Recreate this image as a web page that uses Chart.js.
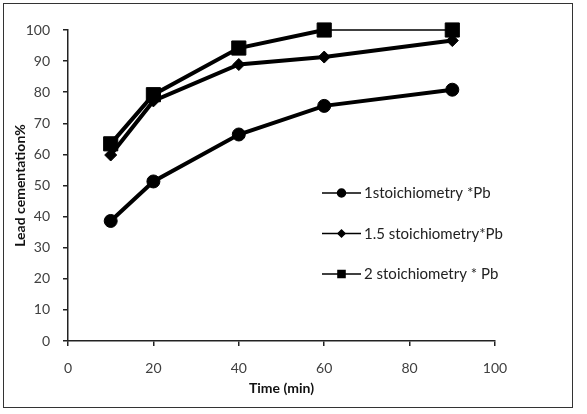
<!DOCTYPE html>
<html>
<head>
<meta charset="utf-8">
<script src="https://cdn.jsdelivr.net/npm/chart.js@4"></script>
<style>
  html, body { margin: 0; padding: 0; background: #fff; }
  #wrap { position: relative; width: 587px; height: 414px; }
  #frame { position: absolute; left: 3px; top: 3px; width: 568px; height: 403px; border: 1.5px solid #333; pointer-events: none; }
  canvas { position: absolute; left: 0; top: 0; }
</style>
</head>
<body>
<div id="wrap">
  <canvas id="chart" width="587" height="414"></canvas>
  <div id="frame"></div>
</div>
<script>
// --- DATA ---
const times = [10, 20, 40, 60, 90];
const pb1 = [38.6, 51.3, 66.4, 75.6, 80.8];
const pb15 = [59.8, 77.2, 88.9, 91.3, 96.6];
const pb2 = [63.4, 79.2, 94.2, 100, 100];
const seriesNames = ['1stoichiometry *Pb', '1.5 stoichiometry*Pb', '2 stoichiometry * Pb'];
const xRange = [0, 100];
const yRange = [0, 100];

const FONT = 'Lato, "Liberation Sans", sans-serif';

function toPoints(ys) {
  return times.map((t, i) => ({ x: t, y: ys[i] }));
}

// legend drawn inside the plot area, Excel style
const insideLegend = {
  id: 'insideLegend',
  afterDraw(chart) {
    const ctx = chart.ctx;
    const sizes = [4, 3.5, 5];
    chart.data.datasets.forEach((ds, i) => {
      const y = 193 + i * 40.5;
      ctx.save();
      ctx.strokeStyle = '#000';
      ctx.fillStyle = '#000';
      ctx.lineWidth = 1.5;
      ctx.beginPath();
      ctx.moveTo(322, y);
      ctx.lineTo(361, y);
      ctx.stroke();
      Chart.helpers.drawPoint(ctx, { pointStyle: ds.pointStyle, radius: sizes[i], borderWidth: 1 }, 341.5, y);
      ctx.font = '15px ' + FONT;
      ctx.fillStyle = '#222';
      ctx.textBaseline = 'middle';
      ctx.fillText(ds.label, 364, y + 0.5);
      ctx.restore();
    });
  }
};

const common = { borderColor: '#000', backgroundColor: '#000', pointBorderColor: '#000', pointBackgroundColor: '#000', borderWidth: 4, clip: false, pointBorderWidth: 1 };

new Chart(document.getElementById('chart'), {
  type: 'line',
  data: {
    datasets: [
      { ...common, label: seriesNames[0], data: toPoints(pb1), pointStyle: 'circle', pointRadius: 6.5 },
      { ...common, label: seriesNames[1], data: toPoints(pb15), pointStyle: 'rectRot', pointRadius: 6 },
      { ...common, label: seriesNames[2], data: toPoints(pb2), pointStyle: 'rect', pointRadius: 10,
        segment: { borderWidth: c => (c.p0DataIndex === 3 ? 1.5 : 4) } }
    ]
  },
  options: {
    responsive: false,
    animation: false,
    layout: { padding: { top: 30, right: 92, left: 0, bottom: 0 } },
    plugins: { legend: { display: false }, tooltip: { enabled: false } },
    elements: { line: { tension: 0 } },
    scales: {
      x: {
        type: 'linear', min: xRange[0], max: xRange[1],
        afterFit: s => { s.height = 73; },
        grid: { display: true, drawOnChartArea: false, drawTicks: true, tickLength: 5, color: '#222', lineWidth: 1.5 },
        border: { display: true, color: '#222', width: 1.5 },
        ticks: { stepSize: 20, padding: 14, color: '#404040', font: { family: FONT, size: 14 } },
        title: { display: true, text: 'Time (min)', color: '#111', font: { family: FONT, size: 14, weight: 'bold' }, padding: { top: 0, bottom: 17 } }
      },
      y: {
        type: 'linear', min: yRange[0], max: yRange[1],
        afterFit: s => { s.width = 68; },
        grid: { display: true, drawOnChartArea: false, drawTicks: true, tickLength: 5, color: '#222', lineWidth: 1.5 },
        border: { display: true, color: '#222', width: 1.5 },
        ticks: { stepSize: 10, padding: 13, color: '#404040', font: { family: FONT, size: 14 } },
        title: { display: true, text: 'Lead cementation%', color: '#111', font: { family: FONT, size: 14, weight: 'bold' }, padding: { top: 12, bottom: 0 } }
      }
    }
  },
  plugins: [insideLegend]
});
</script>
</body>
</html>
